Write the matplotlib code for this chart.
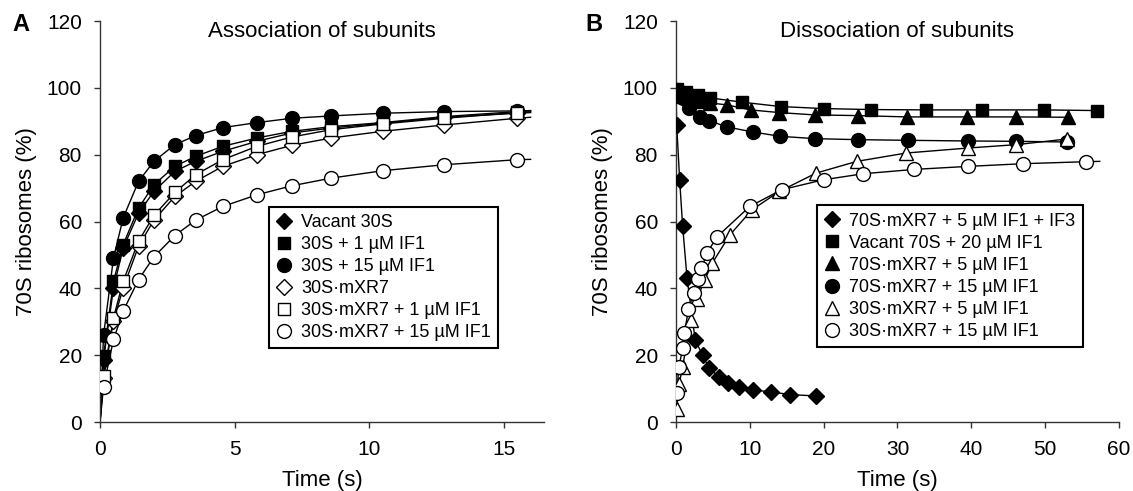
import matplotlib
matplotlib.use("Agg")
import matplotlib.pyplot as plt

plt.rcParams['font.family'] = ['Liberation Sans', 'DejaVu Sans']

# ---- Panel A: association of subunits ----
a_time = [0.13, 0.5, 0.86, 1.43, 2.0, 2.78, 3.55, 4.56, 5.83, 7.13, 8.6, 10.5, 12.8, 15.5]
a_labels = ['Vacant 30S', '30S + 1 µM IF1', '30S + 15 µM IF1',
            '30S·mXR7', '30S·mXR7 + 1 µM IF1', '30S·mXR7 + 15 µM IF1']
a_vacant = [18.7, 40.1, 52.1, 62.5, 69.0, 75.0, 78.0, 81.0, 84.0, 86.5, 88.0, 89.4, 91.2, 92.4]
a_if1_1 = [19.7, 42.1, 53.1, 64.0, 71.0, 76.5, 79.5, 82.5, 85.0, 87.0, 88.4, 89.6, 91.4, 92.9]
a_if1_15 = [25.9, 49.1, 61.1, 72.0, 78.0, 83.0, 85.7, 88.1, 89.6, 90.9, 91.6, 92.4, 92.9, 93.1]
a_mxr7 = [13.2, 30.2, 40.1, 52.6, 60.4, 67.5, 72.0, 76.5, 80.0, 82.8, 85.0, 87.0, 88.9, 90.9]
a_mxr7_1 = [13.7, 31.2, 42.1, 54.1, 61.8, 68.7, 74.0, 78.5, 82.5, 85.3, 87.5, 89.2, 90.9, 92.6]
a_mxr7_15 = [10.6, 24.7, 33.2, 42.6, 49.4, 55.8, 60.4, 64.5, 68.0, 70.7, 73.0, 75.2, 77.0, 78.5]
a_series = [a_vacant, a_if1_1, a_if1_15, a_mxr7, a_mxr7_1, a_mxr7_15]
# fitted curves start at 0 and run to t = 16
a_fit_end = [92.6, 93.1, 93.2, 91.2, 92.8, 78.6]

# ---- Panel B: dissociation of subunits ----
b_labels = ['70S·mXR7 + 5 µM IF1 + IF3', 'Vacant 70S + 20 µM IF1', '70S·mXR7 + 5 µM IF1',
            '70S·mXR7 + 15 µM IF1', '30S·mXR7 + 5 µM IF1', '30S·mXR7 + 15 µM IF1']
b_t_if3 = [0.1, 0.5, 0.9, 1.5, 2.6, 3.6, 4.5, 5.8, 7.0, 8.6, 10.5, 12.9, 15.5, 19.0]
b_y_if3 = [88.9, 72.5, 58.8, 43.1, 24.6, 20.0, 16.1, 13.6, 11.6, 10.6, 9.6, 9.0, 8.2, 7.8]
b_t_vac = [0.2, 1.4, 3.0, 4.6, 9.0, 14.2, 20.0, 26.4, 33.8, 41.5, 49.9, 57.0]
b_y_vac = [99.8, 98.9, 98.0, 97.0, 95.7, 94.4, 93.8, 93.5, 93.4, 93.4, 93.4, 93.2]
b_t_tri = [0.3, 1.0, 2.0, 3.3, 4.6, 6.9, 10.1, 14.0, 18.8, 24.6, 31.3, 39.4, 46.0, 53.1]
b_y_tri = [99.0, 97.5, 96.5, 96.0, 95.5, 94.9, 93.4, 92.6, 91.9, 91.7, 91.3, 91.3, 91.3, 91.2]
b_t_c15 = [0.2, 0.9, 1.8, 3.3, 4.5, 6.9, 10.4, 14.1, 18.8, 24.6, 31.4, 39.5, 46.0, 52.9]
b_y_c15 = [99.5, 97.0, 93.9, 91.2, 90.2, 88.3, 86.8, 85.5, 84.8, 84.5, 84.3, 84.1, 84.0, 83.8]
b_t_o5 = [0.1, 0.45, 0.9, 2.0, 2.8, 3.9, 4.9, 7.3, 10.3, 14.0, 19.0, 24.5, 31.2, 39.6, 46.1, 53.0]
b_y_o5 = [4.0, 11.5, 16.5, 30.5, 36.7, 42.5, 47.5, 56.0, 63.5, 69.0, 74.5, 78.0, 80.5, 82.0, 83.0, 84.7]
b_t_o15 = [0.1, 0.4, 0.9, 1.15, 1.7, 2.4, 2.95, 3.45, 4.2, 5.5, 10.0, 14.3, 20.0, 25.4, 32.3, 39.6, 47.0, 55.5]
b_y_o15 = [8.6, 16.4, 22.0, 26.7, 33.7, 38.5, 42.8, 46.0, 50.5, 55.3, 64.5, 69.5, 72.5, 74.3, 75.6, 76.5, 77.3, 77.9]
b_t = [b_t_if3, b_t_vac, b_t_tri, b_t_c15, b_t_o5, b_t_o15]
b_y = [b_y_if3, b_y_vac, b_y_tri, b_y_c15, b_y_o5, b_y_o15]
# curves start at t = 0 from these values; only the last one runs past its final point
b_fit_start = [100.0, 100.0, 100.0, 100.0, 0.0, 0.0]
b_fit_end = [None, None, None, None, None, (57.4, 78.0)]

# marker styles in legend order: (marker, face, size)
a_styles = [('D', 'black', 8), ('s', 'black', 9), ('o', 'black', 10),
            ('D', 'white', 8), ('s', 'white', 9), ('o', 'white', 10)]
b_styles = [('D', 'black', 8), ('s', 'black', 9), ('^', 'black', 10),
            ('o', 'black', 10), ('^', 'white', 10), ('o', 'white', 10)]

fig = plt.figure(figsize=(11.33, 4.91), dpi=100)
axA = fig.add_axes([0.0883, 0.1405, 0.3919, 0.8167])
axB = fig.add_axes([0.5966, 0.1405, 0.3910, 0.8167])


def style_axes(ax, xlim, xticks, title):
    ax.set_xlim(*xlim)
    ax.set_ylim(0, 120)
    ax.set_xticks(xticks)
    ax.set_yticks(range(0, 121, 20))
    for side in ['top', 'right']:
        ax.spines[side].set_visible(False)
    for side in ['left', 'bottom']:
        ax.spines[side].set_linewidth(1.0)
        ax.spines[side].set_color('#333333')
    ax.tick_params(direction='out', length=4, width=1, labelsize=15, color='#333333', pad=9)
    ax.set_xlabel('Time (s)', fontsize=16, labelpad=8)
    ax.set_ylabel('70S ribosomes (%)', fontsize=16, labelpad=7)
    ax.text(0.5, 0.973, title, transform=ax.transAxes, ha='center', va='center', fontsize=16)


def make_legend(ax, handles, anchor):
    leg = ax.legend(handles=handles, loc='upper left', bbox_to_anchor=anchor,
                    fontsize=13, frameon=True, fancybox=False, edgecolor='black',
                    borderpad=0.4, labelspacing=0.28, handlelength=0.9, handletextpad=0.5,
                    borderaxespad=0, framealpha=1)
    leg.get_frame().set_linewidth(1.5)


# panel A
handles = []
for vals, end, (m, fc, ms), lab in zip(a_series, a_fit_end, a_styles, a_labels):
    axA.plot([0] + a_time + [16.0], [0] + vals + [end], color='black', lw=1.0, zorder=2)
    h, = axA.plot(a_time, vals, linestyle='none', marker=m, markersize=ms,
                  markerfacecolor=fc, markeredgecolor='black', markeredgewidth=1.0,
                  label=lab, zorder=3)
    handles.append(h)
style_axes(axA, (0, 16.5), [0, 5, 10, 15], 'Association of subunits')
make_legend(axA, handles, (0.38, 0.537))

# panel B
handles = []
for t, y, y0, end, (m, fc, ms), lab in zip(b_t, b_y, b_fit_start, b_fit_end, b_styles, b_labels):
    lt, ly = [0.0] + t, [y0] + y
    if end is not None:
        lt, ly = lt + [end[0]], ly + [end[1]]
    axB.plot(lt, ly, color='black', lw=1.0, zorder=2)
    h, = axB.plot(t, y, linestyle='none', marker=m, markersize=ms,
                  markerfacecolor=fc, markeredgecolor='black', markeredgewidth=1.0,
                  label=lab, zorder=3)
    handles.append(h)
style_axes(axB, (0, 60), range(0, 61, 10), 'Dissociation of subunits')
make_legend(axB, handles, (0.318, 0.540))

fig.text(0.011, 0.950, 'A', fontsize=17, fontweight='bold', ha='left', va='center')
fig.text(0.517, 0.950, 'B', fontsize=17, fontweight='bold', ha='left', va='center')

fig.savefig('out.png', dpi=100)
